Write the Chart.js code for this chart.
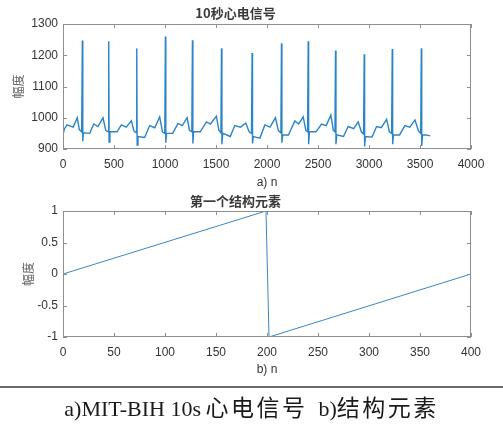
<!DOCTYPE html>
<html>
<head>
<meta charset="utf-8">
<script src="https://cdn.jsdelivr.net/npm/chart.js@4.4.1/dist/chart.umd.min.js"></script>
<style>
  html, body { margin:0; padding:0; background:#fff; }
  #wrap { position:relative; width:503px; height:430px; overflow:hidden; background:#fff; }
  canvas { position:absolute; left:0; }
  #c1 { top:0; }
  #c2 { top:190px; }
  #rule { position:absolute; left:0; top:386px; width:503px; height:2px; background:#6a6a6a; }
  #cap { position:absolute; left:0; top:389px; width:503px; text-align:center; color:#1a1a1a; white-space:nowrap; }
  .lat { font-family:"Liberation Serif","DejaVu Serif",serif; font-size:22px; }
  .cjk { font-family:"Noto Sans CJK SC",sans-serif; font-size:23px; letter-spacing:2.5px; }
</style>
</head>
<body>
<div id="wrap">
  <canvas id="c1" width="503" height="195"></canvas>
  <canvas id="c2" width="503" height="190"></canvas>
  <div id="rule"></div>
  <div id="cap"><span class="lat">a)MIT-BIH 10s&thinsp;</span><span class="cjk">心电信号</span><span class="lat">&nbsp;&nbsp;b)</span><span class="cjk">结构元素</span></div>
</div>
<script>
// ---- Data ----
const ecgN = [
  0, 15, 40, 100, 140, 160, 183, 190,
  194, 200, 262, 301, 343, 392, 419, 442, 448,
  452, 460, 530, 572, 620, 670, 695, 717, 723,
  727, 735, 800, 850, 900, 948, 975, 998, 1004,
  1008, 1015, 1075, 1128, 1170, 1217, 1240, 1263, 1269,
  1273, 1280, 1345, 1406, 1445, 1504, 1528, 1548, 1554,
  1558, 1566, 1640, 1684, 1740, 1792, 1825, 1848, 1854,
  1858, 1866, 1930, 1979, 2030, 2083, 2112, 2136, 2142,
  2146, 2154, 2210, 2273, 2310, 2355, 2380, 2398, 2404,
  2408, 2416, 2480, 2535, 2580, 2626, 2650, 2666, 2672,
  2676, 2684, 2750, 2796, 2850, 2894, 2925, 2947, 2953,
  2957, 2965, 3030, 3074, 3120, 3173, 3200, 3222, 3228,
  3232, 3240, 3300, 3352, 3400, 3451, 3485, 3507, 3513,
  3517, 3525, 3560, 3600
];
const ecgAmp = [
  945, 965, 977, 970, 1000, 962, 955, 1247,
  925, 952, 950, 980, 972, 1000, 960, 955, 1245,
  922, 955, 955, 977, 970, 990, 958, 952, 1222,
  913, 940, 937, 975, 968, 1003, 955, 950, 1260,
  920, 950, 950, 982, 975, 1000, 960, 955, 1248,
  918, 955, 955, 987, 980, 1005, 960, 952, 1222,
  915, 950, 940, 975, 970, 983, 955, 950, 1207,
  918, 940, 935, 977, 970, 1000, 958, 952, 1238,
  920, 945, 945, 990, 980, 1003, 960, 955, 1245,
  915, 955, 955, 980, 975, 1008, 960, 955, 1215,
  915, 945, 940, 972, 965, 987, 955, 948, 1203,
  908, 940, 938, 972, 968, 995, 955, 950, 1220,
  915, 945, 945, 975, 970, 993, 958, 950, 1222,
  910, 945, 945, 942
];
const seN = [0, 199, 202, 400];
const seAmp = [0, 1, -1, 0];

const topYTicks = [900, 1000, 1100, 1200, 1300];
const topXTicks = [0, 500, 1000, 1500, 2000, 2500, 3000, 3500, 4000];
const botYTicks = [-1, -0.5, 0, 0.5, 1];
const botXTicks = [0, 50, 100, 150, 200, 250, 300, 350, 400];

const title1 = '10秒心电信号';
const title2 = '第一个结构元素';
const xTitle1 = 'a) n';
const xTitle2 = 'b) n';
const yTitle = '幅度';

// ---- Helpers ----
const TXT = '#333333';
const BOX = '#8f8f8f';
const LATIN = "Arial, 'Liberation Sans', Helvetica, sans-serif";

const boxTicks = {
  id: 'boxTicks',
  afterDraw(chart) {
    const {ctx, chartArea: {left, right, top, bottom}, scales: {x, y}} = chart;
    ctx.save();
    ctx.strokeStyle = BOX;
    ctx.lineWidth = 1;
    ctx.strokeRect(Math.round(left) + 0.5, Math.round(top) + 0.5, Math.round(right - left) - 1, Math.round(bottom - top) - 1);
    ctx.beginPath();
    x.ticks.forEach(t => {
      const px = Math.round(x.getPixelForValue(t.value)) + 0.5;
      ctx.moveTo(px, bottom); ctx.lineTo(px, bottom - 4);
      ctx.moveTo(px, top); ctx.lineTo(px, top + 4);
    });
    y.ticks.forEach(t => {
      const py = Math.round(y.getPixelForValue(t.value)) + 0.5;
      ctx.moveTo(left, py); ctx.lineTo(left + 4, py);
      ctx.moveTo(right, py); ctx.lineTo(right - 4, py);
    });
    ctx.stroke();
    ctx.restore();
  }
};

function makeChart(id, opts) {
  const pts = opts.n.map((v, i) => ({x: v, y: opts.amp[i]}));
  return new Chart(document.getElementById(id), {
    type: 'line',
    data: { datasets: [{ data: pts, borderColor: opts.color, borderWidth: opts.lw, pointRadius: 0, tension: 0, fill: false }] },
    options: {
      responsive: false,
      animation: false,
      devicePixelRatio: 1,
      layout: { padding: { left: 0, right: 32, top: 0, bottom: 0 } },
      plugins: {
        legend: { display: false },
        tooltip: { enabled: false },
        title: {
          display: true, text: opts.title, color: '#3a3a3a',
          font: { size: opts.titleSize, weight: 'bold', family: "'Noto Sans CJK SC', sans-serif", lineHeight: 1.2 },
          padding: opts.titlePad
        }
      },
      scales: {
        x: {
          type: 'linear', min: opts.xTicks[0], max: opts.xTicks[opts.xTicks.length - 1],
          afterBuildTicks: s => { s.ticks = opts.xTicks.map(v => ({value: v})); },
          afterFit: s => { s.height = opts.xh; },
          grid: { display: false, drawTicks: false },
          border: { display: false },
          ticks: { color: TXT, font: { size: 12, family: LATIN }, padding: 8, maxRotation: 0, autoSkip: false, callback: v => String(v) },
          title: { display: true, text: opts.xTitle, color: TXT, font: { size: 12, family: LATIN, lineHeight: 1.2 }, padding: { top: 0, bottom: opts.xtPad } }
        },
        y: {
          type: 'linear', min: opts.yTicks[0], max: opts.yTicks[opts.yTicks.length - 1],
          afterBuildTicks: s => { s.ticks = opts.yTicks.map(v => ({value: v})); },
          afterFit: s => { s.width = 63; },
          grid: { display: false, drawTicks: false },
          border: { display: false },
          ticks: { color: TXT, font: { size: 12, family: LATIN }, padding: 5, autoSkip: false, callback: v => String(v) },
          title: { display: true, text: yTitle, color: '#666', font: { size: 12, family: "'Noto Sans CJK SC', sans-serif", lineHeight: 1.2 }, padding: { top: opts.ytPad, bottom: 0 } }
        }
      }
    },
    plugins: [boxTicks]
  });
}

makeChart('c1', {
  n: ecgN, amp: ecgAmp, color: '#2a84c6', lw: 1.4,
  title: title1, titleSize: 13, titlePad: { top: 5, bottom: 3.4 },
  xTicks: topXTicks, yTicks: topYTicks, xTitle: xTitle1,
  xh: 46, xtPad: 5, ytPad: 11
});
makeChart('c2', {
  n: seN, amp: seAmp, color: '#3a86c2', lw: 1,
  title: title2, titleSize: 13, titlePad: { top: 3, bottom: 2.4 },
  xTicks: botXTicks, yTicks: botYTicks, xTitle: xTitle2,
  xh: 43, xtPad: 3, ytPad: 21
});
</script>
</body>
</html>
